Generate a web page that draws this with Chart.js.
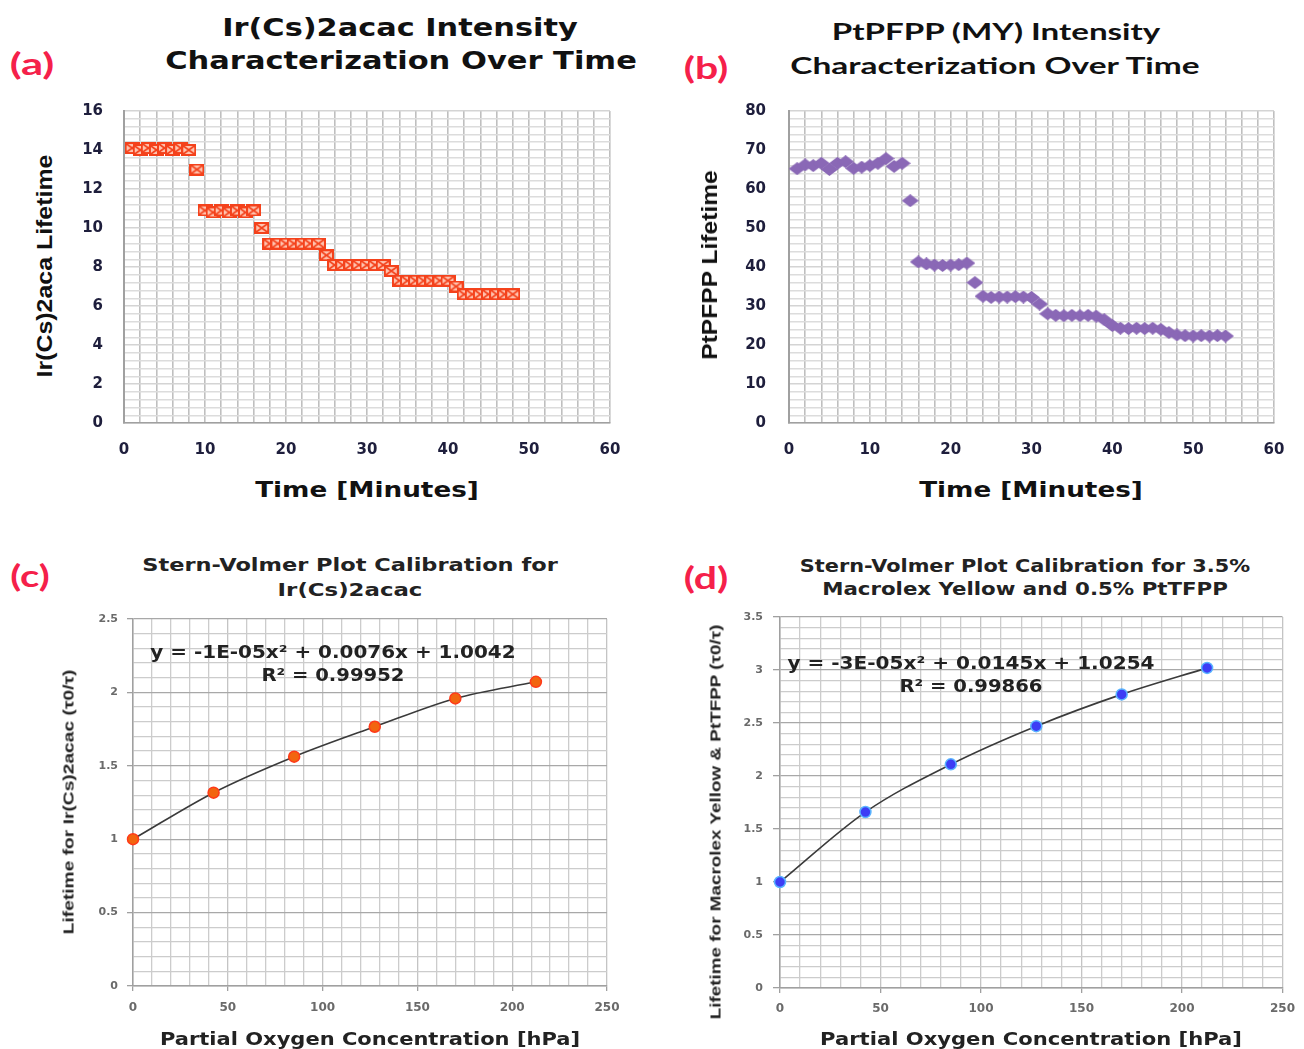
<!DOCTYPE html>
<html>
<head>
<meta charset="utf-8">
<script src="https://cdn.jsdelivr.net/npm/chart.js@4.4.0/dist/chart.umd.min.js"></script>
<style>
  body { margin: 0; background: #fff; width: 1304px; height: 1049px; position: relative; overflow: hidden; }
  canvas { position: absolute; }
  .t { position: absolute; white-space: nowrap; line-height: 1; }
</style>
</head>
<body>
<script>
// (a) Ir(Cs)2acac lifetime vs time
const timeA = [1,2,3,4,5,6,7,8,9,10,11,12,13,14,15,16,17,18,19,20,21,22,23,24,
               25,26,27,28,29,30,31,32,33,34,35,36,37,38,39,40,41,42,43,44,45,46,47,48];
const lifeA = [14.1,14.0,14.1,14.0,14.1,14.0,14.1,14.0, 13.0,
               10.9,10.8,10.9,10.8,10.9,10.8,10.9, 10.0,
               9.2,9.2,9.2,9.2,9.2,9.2,9.2, 8.6,
               8.1,8.1,8.1,8.1,8.1,8.1,8.1, 7.8,
               7.3,7.3,7.3,7.3,7.3,7.3,7.3, 7.0,
               6.6,6.6,6.6,6.6,6.6,6.6,6.6];

// (b) PtPFPP lifetime vs time
const timeB = [1,2,3,4,5,6,7,8,9,10,11,12,13,14,15,16,17,18,19,20,21,22,23,24,25,26,27,
               28,29,30,31,32,33,34,35,36,37,38,39,40,41,42,43,44,45,46,47,48,49,50,51,52,53,54];
const lifeB = [65.2,66.2,66.0,66.6,65.0,66.6,67.0,65.3,65.6,66.0,66.6,67.8,65.8,66.6, 57.0,
               41.3,40.8,40.5,40.4,40.5,40.6,41.0, 36.0,
               32.5,32.2,32.3,32.3,32.4,32.3,32.2, 30.5, 28.0,
               27.6,27.5,27.6,27.5,27.6,27.4, 26.5, 25.0,
               24.3,24.2,24.3,24.2,24.3,24.0, 23.2, 22.6,
               22.4,22.3,22.4,22.3,22.4,22.3];

// (c) Stern-Volmer Ir(Cs)2acac
const oxyC = [0, 42.5, 85, 127.5, 170, 212.5];
const lifeC = [1.0, 1.317, 1.562, 1.766, 1.959, 2.072];

// (d) Stern-Volmer Macrolex Yellow + PtTFPP
const oxyD = [0, 42.5, 85, 127.5, 170, 212.5];
const lifeD = [1.0, 1.66, 2.11, 2.47, 2.77, 3.02];

// tick labels
const timeTicks = [0, 10, 20, 30, 40, 50, 60];
const yTicksA = [0, 2, 4, 6, 8, 10, 12, 14, 16];
const yTicksB = [0, 10, 20, 30, 40, 50, 60, 70, 80];
const oxyTicks = [0, 50, 100, 150, 200, 250];
const yTicksC = [0, 0.5, 1, 1.5, 2, 2.5];
const yTicksD = [0, 0.5, 1, 1.5, 2, 2.5, 3, 3.5];

// marker images
const markA = document.createElement('canvas');
markA.width = 15; markA.height = 12;
(function () {
  const m = markA.getContext('2d');
  m.fillStyle = '#f4421c'; m.fillRect(0, 0, 15, 12);
  m.fillStyle = '#ffc4b0'; m.fillRect(2, 2, 11, 8);
  m.strokeStyle = '#f4421c'; m.lineWidth = 1.6;
  m.beginPath();
  m.moveTo(2, 2); m.lineTo(13, 10);
  m.moveTo(13, 2); m.lineTo(2, 10);
  m.stroke();
})();
const markB = document.createElement('canvas');
markB.width = 17; markB.height = 13;
(function () {
  const m = markB.getContext('2d');
  m.fillStyle = '#8a68b6';
  m.beginPath();
  m.moveTo(8.5, 0); m.lineTo(17, 6.5); m.lineTo(8.5, 13); m.lineTo(0, 6.5);
  m.closePath(); m.fill();
})();

const toXY = (xs, ys) => xs.map((x, i) => ({ x: x, y: ys[i] }));
const has = (arr, v) => arr.some(a => Math.abs(a - v) < 1e-6);

// tick length is used as the gap between axis and labels (it does not add to the
// scale's own label padding, which would push the plot area down)
function axis(a, isX) {
  return {
    type: 'linear', min: a.min, max: a.max,
    afterFit: s => { if (isX) s.height = a.size; else s.width = a.size; },
    ticks: {
      stepSize: a.step, autoSkip: false, maxRotation: 0, padding: a.pad,
      color: a.color, font: a.font,
      callback: v => {
        const l = a.labels.find(l => Math.abs(l - v) < 1e-6);
        return l === undefined ? '' : String(l);
      }
    },
    grid: {
      color: c => (c.tick && has(a.labels, c.tick.value)) ? a.major : a.minor,
      lineWidth: a.lw,
      drawTicks: true, tickLength: a.tick,
      tickColor: c => (a.showTick && c.tick && has(a.labels, c.tick.value)) ? a.border : 'rgba(0,0,0,0)'
    },
    border: { color: a.border, width: a.bw }
  };
}

function panel(p) {
  const cv = document.createElement('canvas');
  cv.width = p.w; cv.height = p.h;
  cv.style.left = p.left + 'px'; cv.style.top = p.top + 'px';
  document.body.appendChild(cv);
  return new Chart(cv, {
    type: 'scatter',
    data: { datasets: p.datasets },
    options: {
      responsive: false, animation: false,
      layout: { padding: { top: p.padTop, right: p.padRight, left: 0, bottom: 0 } },
      plugins: { legend: { display: false }, tooltip: { enabled: false } },
      scales: { x: axis(p.x, true), y: axis(p.y, false) }
    }
  });
}

const bigTick = { family: 'DejaVu Sans', weight: 'bold', size: 15 };

panel({
  left: 60, top: 100, w: 575, h: 370, padTop: 10, padRight: 25,
  datasets: [{ data: toXY(timeA, lifeA), pointStyle: markA, pointRadius: 7, clip: false }],
  x: { min: 0, max: 60, step: 2, labels: timeTicks, size: 47, tick: 16, pad: 2, showTick: false,
       color: '#1e1e3c', font: bigTick, major: '#bfbfbf', minor: '#bfbfbf', lw: 1.6, border: '#a0a0a0', bw: 1.5 },
  y: { min: 0, max: 16, step: 0.4, labels: yTicksA, size: 64, tick: 19, pad: 2, showTick: false,
       color: '#1e1e3c', font: bigTick, major: '#d4d4d4', minor: '#dcdcdc', lw: 1.4, border: '#a0a0a0', bw: 2 }
});

panel({
  left: 720, top: 100, w: 584, h: 370, padTop: 10, padRight: 30,
  datasets: [{ data: toXY(timeB, lifeB), pointStyle: markB, pointRadius: 8, clip: false }],
  x: { min: 0, max: 60, step: 2, labels: timeTicks, size: 47, tick: 16, pad: 2, showTick: false,
       color: '#1e1e3c', font: bigTick, major: '#bfbfbf', minor: '#bfbfbf', lw: 1.6, border: '#a0a0a0', bw: 1.5 },
  y: { min: 0, max: 80, step: 2, labels: yTicksB, size: 69, tick: 21, pad: 2, showTick: false,
       color: '#1e1e3c', font: bigTick, major: '#d4d4d4', minor: '#dcdcdc', lw: 1.4, border: '#a0a0a0', bw: 2 }
});

const smallY = { family: 'DejaVu Sans', weight: 'bold', size: 11 };
const smallX = { family: 'DejaVu Sans', weight: 'bold', size: 12 };

panel({
  left: 70, top: 600, w: 565, h: 440, padTop: 19, padRight: 28,
  datasets: [{ data: toXY(oxyC, lifeC), showLine: true, fill: false, cubicInterpolationMode: 'monotone',
               borderColor: '#3a3a3a', borderWidth: 1.6, pointRadius: 5.5,
               pointBackgroundColor: '#f2650f', pointBorderColor: '#ff3a1a', pointBorderWidth: 1.5, clip: false }],
  x: { min: 0, max: 250, step: 10, labels: oxyTicks, size: 54, tick: 5, pad: 10, showTick: true,
       color: '#6a6a6a', font: smallX, major: '#c4c4c4', minor: '#cccccc', lw: 1.3, border: '#a0a0a0', bw: 1.5 },
  y: { min: 0, max: 2.5, step: 0.1, labels: yTicksC, size: 63, tick: 6, pad: 9, showTick: true,
       color: '#6a6a6a', font: smallY, major: '#a8a8a8', minor: '#cccccc', lw: 1.3, border: '#a0a0a0', bw: 1.5 }
});

panel({
  left: 720, top: 600, w: 584, h: 440, padTop: 17, padRight: 21,
  datasets: [{ data: toXY(oxyD, lifeD), showLine: true, fill: false, cubicInterpolationMode: 'monotone',
               borderColor: '#3a3a3a', borderWidth: 1.6, pointRadius: 5.5,
               pointBackgroundColor: '#3d3df5', pointBorderColor: '#5ab4ff', pointBorderWidth: 1.5, clip: false }],
  x: { min: 0, max: 250, step: 10, labels: oxyTicks, size: 52, tick: 5, pad: 9, showTick: true,
       color: '#6a6a6a', font: smallX, major: '#c4c4c4', minor: '#cccccc', lw: 1.3, border: '#a0a0a0', bw: 1.5 },
  y: { min: 0, max: 3.5, step: 0.1, labels: yTicksD, size: 60, tick: 7, pad: 10, showTick: true,
       color: '#6a6a6a', font: smallY, major: '#a8a8a8', minor: '#cccccc', lw: 1.3, border: '#a0a0a0', bw: 1.5 }
});

// text: centred at (cx, cy), stretched to the measured width in the reference
function text(str, cx, cy, font, width, color, vertical) {
  const d = document.createElement('div');
  d.className = 't';
  d.textContent = str;
  d.style.font = font;
  d.style.color = color || '#111';
  d.style.left = cx + 'px';
  d.style.top = cy + 'px';
  document.body.appendChild(d);
  const s = width / d.offsetWidth;
  d.style.transform = 'translate(-50%,-50%)' + (vertical ? ' rotate(-90deg)' : '') + ' scaleX(' + s.toFixed(3) + ')';
}

const red = '#f5204a';
const lab = 'bold 30px Lato';
text('(a)', 32, 63, lab, 45, red);
text('(b)', 706, 67, lab, 45, red);
text('(c)', 30, 575, lab, 40, red);
text('(d)', 706, 577, lab, 45, red);

const heavy = 'bold 25px "DejaVu Sans"';
text('Ir(Cs)2acac Intensity', 400, 27, heavy, 356);
text('Characterization Over Time', 401, 60, heavy, 472);
const cal = 'bold 23px Lato';
text('PtPFPP (MY) Intensity', 996, 31, cal, 328);
text('Characterization Over Time', 995, 65, cal, 410);

const axT = 'bold 22px "DejaVu Sans"';
text('Time [Minutes]', 367, 489, axT, 223);
text('Time [Minutes]', 1031, 489, axT, 223);
const axY = 'bold 22px "Liberation Sans"';
text('Ir(Cs)2aca Lifetime', 45, 266, axY, 223, '#111', true);
text('PtPFPP Lifetime', 710, 265, axY, 190, '#111', true);

const sv = 'bold 17px "DejaVu Sans"';
text('Stern-Volmer Plot Calibration for', 350, 565, sv, 415, '#222');
text('Ir(Cs)2acac', 350, 590, sv, 145, '#222');
text('Stern-Volmer Plot Calibration for 3.5%', 1025, 566, sv, 450, '#222');
text('Macrolex Yellow and 0.5% PtTFPP', 1025, 589, sv, 405, '#222');

const pox = 'bold 18px "DejaVu Sans"';
text('Partial Oxygen Concentration [hPa]', 370, 1038, pox, 420, '#222');
text('Partial Oxygen Concentration [hPa]', 1031, 1038, pox, 422, '#222');
const ltY = 'bold 15px "Liberation Sans"';
text('Lifetime for Ir(Cs)2acac (τ0/τ)', 68, 802, ltY, 265, '#222', true);
text('Lifetime for Macrolex Yellow & PtTFPP (τ0/τ)', 715, 822, ltY, 395, '#222', true);

const eq = 'bold 17px "DejaVu Sans"';
text('y = -1E-05x² + 0.0076x + 1.0042', 333, 652, eq, 365, '#222');
text('R² = 0.99952', 333, 675, eq, 143, '#222');
text('y = -3E-05x² + 0.0145x + 1.0254', 971, 663, eq, 367, '#222');
text('R² = 0.99866', 971, 686, eq, 143, '#222');
</script>
</body>
</html>
